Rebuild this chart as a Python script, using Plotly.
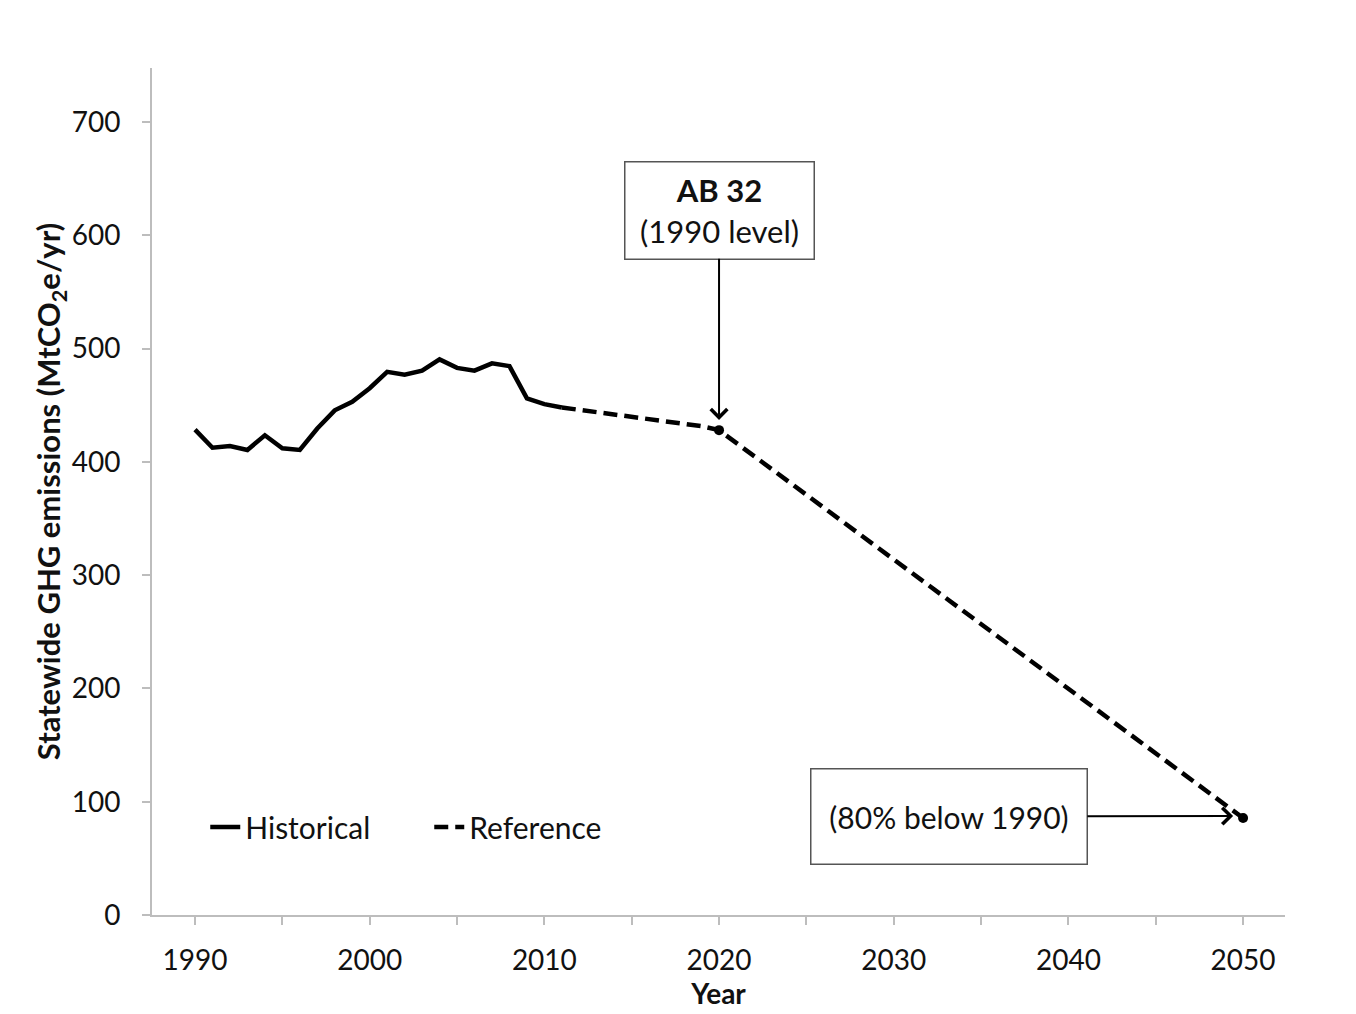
import plotly.graph_objects as go

# ---- data ----
hist_years = list(range(1990, 2012))
hist_values = [428.5, 412.5, 414, 410.5, 423.5, 412, 410.5, 429.5, 445.5, 453, 465,
               479.5, 477, 480.5, 490.5, 483, 480.5, 487, 484.5, 456, 451, 448]

ref_years = [2011, 2012, 2013, 2014, 2015, 2016, 2017, 2018, 2019, 2020, 2050]
ref_values = [448, 446, 444.5, 442, 440, 438.5, 436.5, 434.5, 431.5, 428, 85.6]

target_years = [2020, 2050]
target_values = [428, 85.6]

x_tick_vals = [1990, 2000, 2010, 2020, 2030, 2040, 2050]
y_tick_vals = [0, 100, 200, 300, 400, 500, 600, 700]

FONT = "Lato"
TXT = "#111111"
AXC = "#bdbdbd"

fig = go.Figure()
fig.add_trace(go.Scatter(x=hist_years, y=hist_values, mode="lines", name="Historical",
                         line=dict(color="black", width=4.5)))
fig.add_trace(go.Scatter(x=ref_years, y=ref_values, mode="lines", name="Reference",
                         line=dict(color="black", width=4.5, dash="14px,7px")))
fig.add_trace(go.Scatter(x=target_years, y=target_values, mode="markers", showlegend=False,
                         marker=dict(color="black", size=10)))

# AB 32 box with downward arrow
fig.add_annotation(x=2020, y=437, xref="x", yref="y", axref="x", ayref="y",
                   ax=2020, ay=622.3,
                   text="<b>AB 32</b><br>(1990 level)",
                   font=dict(family=FONT, size=31, color=TXT),
                   showarrow=True, arrowhead=4, arrowsize=1.6, arrowwidth=2,
                   arrowcolor="black", bgcolor="white", bordercolor="#555555",
                   borderwidth=1.5, borderpad=0, width=188, height=96, align="center")

# 80% below 1990 box with rightward arrow
fig.add_annotation(x=2049.43, y=87.4, xref="x", yref="y", axref="x", ayref="y",
                   ax=2033.17, ay=86.9,
                   text="(80% below 1990)",
                   font=dict(family=FONT, size=30, color=TXT),
                   showarrow=True, arrowhead=4, arrowsize=1.6, arrowwidth=2,
                   arrowcolor="black", bgcolor="white", bordercolor="#555555",
                   borderwidth=1.5, borderpad=0, width=275, height=94, align="center")

fig.update_layout(
    width=1348, height=1006,
    margin=dict(l=144, r=71, t=60, b=99),
    paper_bgcolor="white", plot_bgcolor="white",
    font=dict(family=FONT, color=TXT),
    showlegend=True,
    legend=dict(orientation="h", x=0.047, y=0.104, xanchor="left", yanchor="middle",
                font=dict(family=FONT, size=30, color=TXT),
                bgcolor="rgba(0,0,0,0)", entrywidth=179, entrywidthmode="pixels",
                itemwidth=30),
    xaxis=dict(range=[1987.538, 2052.40], tickvals=x_tick_vals,
               ticks="outside", ticklen=8, tickcolor=AXC, tickwidth=1.5,
               minor=dict(dtick=5, tick0=1990, ticks="outside", ticklen=8,
                          tickcolor=AXC, tickwidth=1.5, showgrid=False),
               showline=True, linecolor=AXC, linewidth=2, showgrid=False, zeroline=False,
               tickfont=dict(family=FONT, size=28, color=TXT), ticklabelstandoff=11,
               title=dict(text="<b>Year</b>", font=dict(family=FONT, size=28, color=TXT),
                          standoff=2)),
    yaxis=dict(range=[0, 747.7], tickvals=y_tick_vals,
               ticks="outside", ticklen=8, tickcolor=AXC, tickwidth=1.5,
               showline=True, linecolor=AXC, linewidth=2, showgrid=False, zeroline=False,
               tickfont=dict(family=FONT, size=28, color=TXT), ticklabelstandoff=16,
               title=dict(text="<b>Statewide GHG emissions (MtCO<sub>2</sub>e/yr)</b>",
                          font=dict(family=FONT, size=31, color=TXT), standoff=0)),
)

fig.write_html("out.html")
